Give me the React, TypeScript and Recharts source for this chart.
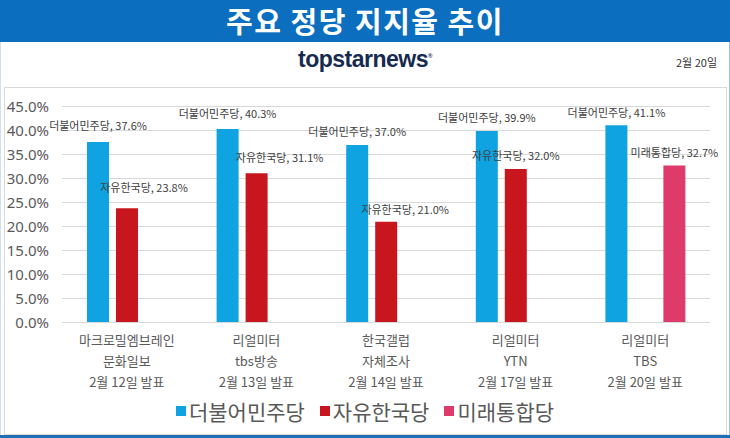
import React from "react";
import {
  BarChart,
  Bar,
  XAxis,
  YAxis,
  CartesianGrid,
  LabelList,
} from "recharts";

// 조사기관 / 의뢰처 / 발표일
const pollsters = ["마크로밀엠브레인", "리얼미터", "한국갤럽", "리얼미터", "리얼미터"];
const outlets = ["문화일보", "tbs방송", "자체조사", "YTN", "TBS"];
const releaseDates = ["2월 12일 발표", "2월 13일 발표", "2월 14일 발표", "2월 17일 발표", "2월 20일 발표"];

// 정당 지지율 (%)
const minjoo = [37.6, 40.3, 37.0, 39.9, 41.1];
const hanguk = [23.8, 31.1, 21.0, 32.0, null];
const mirae = [null, null, null, null, 32.7];

const yTicks = [0, 5, 10, 15, 20, 25, 30, 35, 40, 45];

const parties = [
  { key: "minjoo", name: "더불어민주당", color: "#0fa3e2" },
  { key: "hanguk", name: "자유한국당", color: "#c8161e" },
  { key: "mirae", name: "미래통합당", color: "#de3a6b" },
];

const data = pollsters.map((p, i) => ({
  name: p,
  minjoo: minjoo[i],
  hanguk: hanguk[i],
  mirae: mirae[i],
}));

// label nudges (dx, dy from bar top) - Excel placed some labels off-center
const labelShift: Record<string, number[][]> = {
  minjoo: [[0, -16], [0, -15], [0, -13], [0, -13], [0, -12]],
  hanguk: [[17, -20], [23, -15], [19, -12], [0, -13], [0, -13]],
  mirae: [[0, -13], [0, -13], [0, -13], [0, -13], [0, -13]],
};

const KR = "'Noto Sans CJK KR', 'Noto Sans', sans-serif";
const GRAY = "#595959";

const makeLabel = (party: string, shifts: number[][]) => (props: any) => {
  const { x, y, width, value, index } = props;
  if (value === null || value === undefined) return null;
  const [dx, dy] = shifts[index];
  return (
    <text
      x={Number(x) + Number(width) / 2 + dx}
      y={Number(y) + dy + 4}
      textAnchor="middle"
      fontSize={11}
      fontFamily={KR}
      fill="#404040"
    >
      {`${party}, ${Number(value).toFixed(1)}%`}
    </text>
  );
};

const XTick = (props: any) => {
  const { x, y, payload } = props;
  const i = payload.index;
  return (
    <g transform={`translate(${x},${y})`}>
      <text textAnchor="middle" fontSize={13} fontFamily={KR} fill={GRAY}>
        <tspan x={0} y={14}>{pollsters[i]}</tspan>
        <tspan x={0} y={35}>{outlets[i]}</tspan>
        <tspan x={0} y={56}>{releaseDates[i]}</tspan>
      </text>
    </g>
  );
};

const App: React.FC = () => {
  return (
    <div
      style={{
        position: "absolute",
        left: 0,
        top: 0,
        width: 730,
        height: 438,
        background: "#fff",
        overflow: "hidden",
      }}
    >
      <div
        style={{
          position: "absolute",
          left: 0,
          top: 0,
          width: 730,
          height: 42,
          background: "#0b6ebf",
        }}
      />
      <div
        style={{
          position: "absolute",
          left: 0,
          top: -2,
          width: 730,
          color: "#fff",
          fontFamily: KR,
          fontWeight: 700,
          fontSize: 29,
          letterSpacing: 1.5,
          lineHeight: "44px",
          textAlign: "center",
        }}
      >
        주요 정당 지지율 추이
      </div>
      <div
        style={{
          position: "absolute",
          left: 0,
          top: 42,
          width: 728,
          height: 393,
          borderLeft: "1px solid #cfe0f0",
          borderRight: "1px solid #9cc3e6",
        }}
      />
      <div
        style={{
          position: "absolute",
          left: 0,
          top: 435,
          width: 730,
          height: 3,
          background: "#1f6fb5",
        }}
      />
      <div
        style={{
          position: "absolute",
          left: 0,
          top: 46,
          width: 730,
          textAlign: "center",
          fontFamily: "'Liberation Sans', Arial, sans-serif",
          fontWeight: 700,
          fontSize: 23,
          letterSpacing: -0.5,
          color: "#172a4f",
        }}
      >
        topstarnews<span style={{ fontSize: 6, verticalAlign: "super" }}>®</span>
      </div>
      <div
        style={{
          position: "absolute",
          left: 676,
          top: 54,
          fontFamily: KR,
          fontSize: 11,
          color: "#333",
        }}
      >
        2월 20일
      </div>
      <div
        style={{
          position: "absolute",
          left: 4,
          top: 87,
          width: 721,
          height: 346,
          border: "1px solid #d9d9d9",
        }}
      />
      <div style={{ position: "absolute", left: 0, top: 0 }}>
        <BarChart
          width={730}
          height={438}
          data={data}
          margin={{ top: 106.5, right: 20, bottom: 85.5, left: 0 }}
          barSize={22}
          barGap={7}
        >
          <CartesianGrid vertical={false} stroke="#d9d9d9" />
          <XAxis
            dataKey="name"
            height={30}
            interval={0}
            tickLine={false}
            axisLine={{ stroke: "#d9d9d9" }}
            tick={<XTick />}
          />
          <YAxis
            width={62}
            domain={[0, 45]}
            ticks={yTicks}
            interval={0}
            tickSize={0}
            tickMargin={13}
            axisLine={false}
            tickLine={false}
            tickFormatter={(v: number) => `${v.toFixed(1)}%`}
            tick={{ fill: GRAY, fontSize: 15, fontFamily: "'Noto Sans', sans-serif" }}
          />
          {parties.map((p) => (
            <Bar key={p.key} dataKey={p.key} name={p.name} fill={p.color} isAnimationActive={false}>
              <LabelList dataKey={p.key} content={makeLabel(p.name, labelShift[p.key])} />
            </Bar>
          ))}
        </BarChart>
      </div>
      <div
        style={{
          position: "absolute",
          left: 0,
          top: 396,
          width: 730,
          display: "flex",
          justifyContent: "center",
          gap: 15,
        }}
      >
        {parties.map((p) => (
          <div key={p.key} style={{ display: "flex", alignItems: "center" }}>
            <span
              style={{
                display: "inline-block",
                width: 10,
                height: 10,
                background: p.color,
                marginRight: 3,
              }}
            />
            <span style={{ fontFamily: KR, fontSize: 21, color: GRAY }}>{p.name}</span>
          </div>
        ))}
      </div>
    </div>
  );
};

export default App;
